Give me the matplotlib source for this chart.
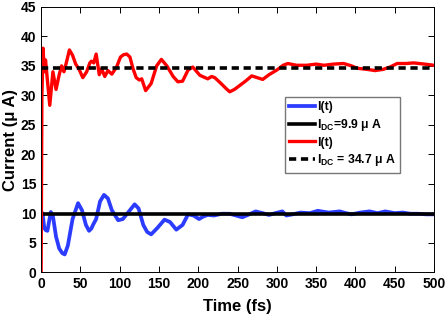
import matplotlib
matplotlib.use('Agg')
import matplotlib.pyplot as plt

plt.rcParams['font.family'] = ['Liberation Sans', 'DejaVu Sans']
plt.rcParams['font.weight'] = 'bold'
plt.rcParams['mathtext.fontset'] = 'custom'
plt.rcParams['mathtext.rm'] = 'Liberation Sans:bold'
plt.rcParams['mathtext.bf'] = 'Liberation Sans:bold'

# red trace (t in fs, current in uA)
t_red = [0, 1, 2.5, 4, 5.6, 7, 11, 15, 19, 23, 26, 29, 32, 36, 40, 44, 48, 53, 58, 62,
         64, 67, 70, 74, 77, 81, 85, 90, 96, 101, 105, 109, 113, 117, 121, 125, 128, 133,
         140, 147, 153, 160, 168, 174, 180, 187, 193, 202, 212, 217, 221, 229, 235, 240,
         246, 253, 260, 268, 275, 282, 290, 300, 308, 314, 325, 338, 350, 360, 372, 385,
         395, 402, 415, 425, 435, 444, 453, 464, 474, 488, 500]
i_red = [0, 30, 38.0, 34.0, 36.0, 34.0, 28.3, 34.0, 31.0, 33.5, 35.0, 34.0, 35.5, 37.7, 36.8,
         35.3, 34.5, 33.0, 34.0, 35.5, 35.8, 35.5, 37.0, 33.5, 34.5, 33.2, 34.2, 33.6, 34.8,
         36.5, 36.9, 37.0, 36.5, 34.5, 33.0, 32.6, 32.8, 30.8, 32.0, 35.0, 36.1, 35.0, 33.2,
         32.3, 32.4, 34.3, 34.8, 33.4, 32.8, 33.2, 33.0, 32.0, 31.2, 30.6, 31.0, 31.7, 32.4,
         33.3, 33.0, 32.7, 33.5, 34.3, 35.1, 35.4, 35.1, 35.1, 35.3, 35.1, 35.3, 35.4, 35.0,
         34.6, 34.4, 34.2, 34.4, 34.8, 35.4, 35.4, 35.5, 35.3, 35.1]

# blue trace
t_blue = [0, 1.8, 4, 6, 8, 12.3, 15, 19, 23, 27, 30, 34, 40, 47, 52, 57, 61, 64, 66, 70,
          75, 80, 85, 90, 98, 104, 110, 119, 124, 130, 135, 140, 148, 157, 164, 172, 180,
          187, 194, 201, 206, 212, 220, 230, 240, 248, 256, 265, 273, 282, 290, 298, 307,
          312, 320, 330, 342, 352, 366, 380, 388, 395, 406, 418, 428, 438, 450, 460, 470,
          480, 490, 500]
i_blue = [10.0, 10.0, 7.5, 7.1, 7.0, 10.2, 9.5, 6.0, 4.0, 3.2, 3.0, 4.5, 9.0, 11.7, 10.5,
          8.0, 7.0, 7.4, 8.0, 9.0, 12.0, 13.1, 12.5, 10.5, 8.8, 9.0, 10.0, 11.5, 10.8, 8.0,
          6.8, 6.4, 7.5, 8.9, 8.5, 7.2, 8.0, 9.8, 9.6, 9.0, 9.4, 9.7, 9.6, 9.9, 9.9, 9.6,
          9.3, 9.8, 10.3, 10.0, 9.7, 10.0, 10.3, 9.6, 9.8, 10.1, 10.0, 10.4, 10.1, 10.3, 10.0,
          9.8, 10.1, 10.3, 10.0, 10.3, 10.0, 10.1, 9.9, 9.9, 9.8, 9.8]

t_dc = [0, 500]
dc_blue = 9.9
dc_red = 34.7

fig = plt.figure(figsize=(4.47, 3.16), dpi=100)
ax = fig.add_axes([0.092, 0.139, 0.879, 0.839])

ax.plot(t_blue, i_blue, color='#2b3cff', lw=2.7, label='I(t)')
ax.plot(t_dc, [dc_blue, dc_blue], color='black', lw=2.6, label=r'$\mathrm{I_{DC}}$=9.9 μ A')
ax.plot(t_red, i_red, color='#ff0000', lw=2.4, label='I(t)')
ax.plot(t_dc, [dc_red, dc_red], color='black', lw=2.6, ls=(0, (2.0, 1.3)),
        label=r'$\mathrm{I_{DC}}$ = 34.7 μ A')

ax.set_xlim(0, 500)
ax.set_ylim(0, 45)
ax.set_xticks(range(0, 501, 50))
ax.set_yticks(range(0, 46, 5))
ax.tick_params(direction='in', top=True, right=True, labelsize=10, length=4, width=0.7)
for lab in ax.get_xticklabels() + ax.get_yticklabels():
    lab.set_fontweight('bold')
for sp in ax.spines.values():
    sp.set_linewidth(0.7)

ax.set_xlabel('Time (fs)', fontsize=12, fontweight='bold', labelpad=6)
ax.set_ylabel('Current (μ A)', fontsize=12, fontweight='bold', labelpad=2)

leg = ax.legend(loc='upper left', bbox_to_anchor=(0.621, 0.66), fontsize=8.8,
                frameon=True, fancybox=False, handlelength=2.1, handletextpad=0.15,
                borderpad=0.35, labelspacing=0.3, borderaxespad=0)
leg.get_frame().set_edgecolor('#555555')
leg.get_frame().set_linewidth(1.0)
for text in leg.get_texts():
    text.set_fontweight('bold')

fig.savefig('out.png', dpi=100)
